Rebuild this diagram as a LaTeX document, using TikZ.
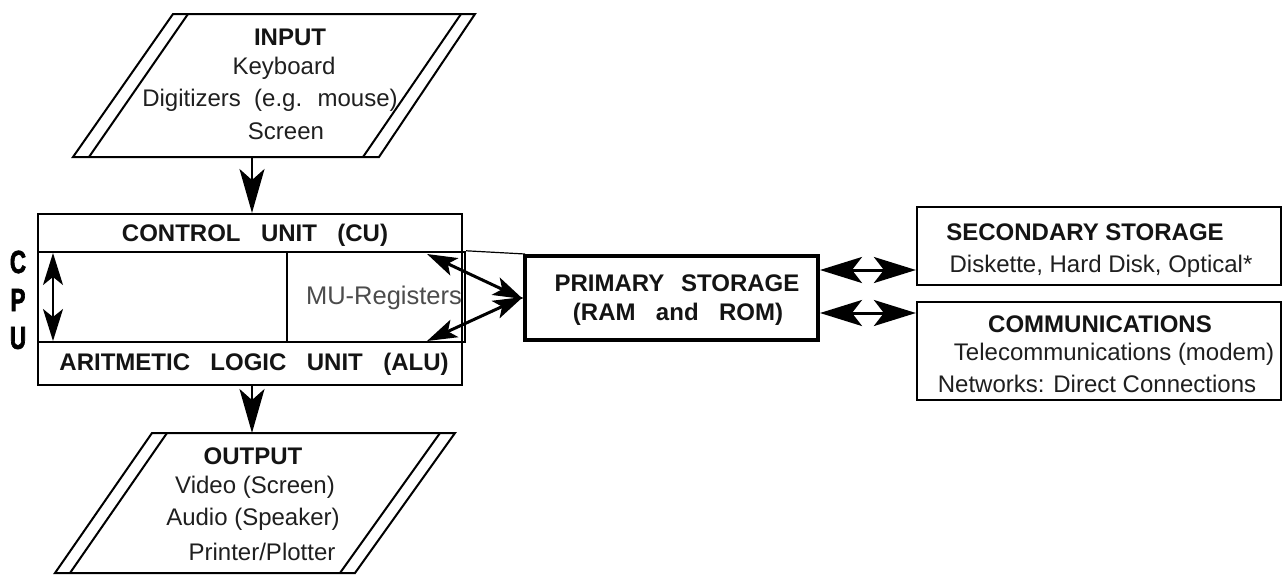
\documentclass[tikz,border=0pt]{standalone}
\usepackage{fontspec}
\setmainfont{Liberation Sans}
\newfontfamily\cpufont[FakeStretch=0.7,FakeBold=2]{Liberation Sans}
\usetikzlibrary{arrows.meta,calc}
\newcommand{\wsp}[1]{\spaceskip=#1\relax}
\begin{document}
\begin{tikzpicture}[x=1pt,y=-1pt,line join=miter]
\tikzset{
  frame/.style={draw=black,line width=2pt},
  boxnode/.style={draw=black,line width=2.2pt,rectangle,inner sep=0pt},
  body/.style={font=\fontsize{24}{30}\selectfont,text=black!88,inner sep=0pt,anchor=center},
  title/.style={font=\bfseries\fontsize{24}{28}\selectfont,text=black!92,inner sep=0pt},
  cpuletter/.style={font=\cpufont\bfseries\fontsize{32}{32}\selectfont,text=black,inner sep=0pt},
  bigarrow/.style={line width=2.5pt,-{Stealth[length=44pt,width=25pt,inset=11pt]}},
  dblarrow/.style={line width=3pt,{Stealth[length=42pt,width=26pt,inset=10pt]}-{Stealth[length=42pt,width=26pt,inset=10pt]}},
  muarrow/.style={line width=3pt,{Stealth[length=30pt,width=19pt,inset=7pt]}-{Stealth[length=30pt,width=19pt,inset=7pt]}},
  thinarrow/.style={line width=2pt,{Stealth[length=32pt,width=20pt,inset=8pt]}-{Stealth[length=32pt,width=20pt,inset=8pt]}},
}
\useasboundingbox (0,0) rectangle (1284,576);
\fill[white] (0,0) rectangle (1284,576);

% ---------- INPUT ----------
\draw[frame] (173,14) -- (475,14) -- (379,157) -- (73,157) -- cycle;
\draw[frame] (188,14) -- (89,157);
\draw[frame] (461,14) -- (363,157);
\node[title] (inT) at (290,37) {INPUT};
\node[body] (inA) at (284,68) {Keyboard};
\node[body] (inB) at (270,100) {\wsp{0.55em}Digitizers (e.g. mouse)};
\node[body] (inC) at (286,131) {Screen};
\coordinate (inbot) at (252,157);

% ---------- CPU ----------
\node[draw=black,line width=2pt,minimum width=424pt,minimum height=171pt,inner sep=0pt] (cpu) at (250,299.5) {};
\draw[frame] (38,252) -- (462,252);
\draw[frame] (38,342) -- (462,342);
\node[draw=black,line width=2.4pt,minimum width=178pt,minimum height=90pt,inner sep=0pt] (mubox) at (376,297) {};
\draw[line width=1.2pt] (mubox.north east) -- (525,254);
\node[title] (cu) at (255,235) {\wsp{0.85em}CONTROL UNIT (CU)};
\node[title] (alu) at (254,364) {\wsp{0.85em}ARITMETIC LOGIC UNIT (ALU)};
\node[body,text=black!70,font=\fontsize{25.5}{30}\selectfont] (mu) at (384,298) {MU-Registers};
\node[cpuletter] (lc) at (18,262) {C};
\node[cpuletter] (lp) at (18,300) {P};
\node[cpuletter] (lu) at (18,338) {U};
\coordinate (cuBot) at (53,253);
\coordinate (aluTop) at (53,341);
\draw[thinarrow] (cuBot) -- (aluTop);

% ---------- OUTPUT ----------
\draw[frame] (152,433) -- (455,433) -- (355,573) -- (55,573) -- cycle;
\draw[frame] (167,433) -- (70,573);
\draw[frame] (440,433) -- (340,573);
\node[title] (outT) at (253,456) {OUTPUT};
\node[body] (outA) at (255,487) {Video (Screen)};
\node[body] (outB) at (253,519) {Audio (Speaker)};
\node[body] (outC) at (262,552) {Printer/Plotter};
\coordinate (outtop) at (252,433);

\draw[bigarrow] (inbot) -- (inbot |- cpu.north);
\draw[bigarrow] (outtop |- cpu.south) -- (outtop);

% ---------- PRIMARY STORAGE ----------
\node[draw=black,line width=4pt,minimum width=293pt,minimum height=84pt,inner sep=0pt] (ps) at (671.5,298) {};
\node[title] (psA) at (677,283) {\wsp{0.7em}PRIMARY STORAGE};
\node[title] (psB) at (678,314) {\wsp{0.85em}(RAM and ROM)};

\coordinate (mu1) at (427,254);
\coordinate (mu2) at (427,341);
\draw[muarrow] (mu1) -- ([yshift=-1pt]ps.west);
\draw[muarrow] (mu2) -- ([yshift=1pt]ps.west);

% ---------- SECONDARY STORAGE ----------
\node[boxnode,minimum width=364pt,minimum height=78pt] (ss) at (1099,246) {};
\node[title] (ssA) at (1085,232) {SECONDARY STORAGE};
\node[body] (ssB) at (1101,266) {Diskette, Hard Disk, Optical*};

% ---------- COMMUNICATIONS ----------
\node[boxnode,minimum width=364pt,minimum height=98pt] (cm) at (1099,351) {};
\node[title] (cmA) at (1100,324) {COMMUNICATIONS};
\node[body] (cmB) at (1114,354) {Telecommunications (modem)};
\node[body] (cmC) at (1097,384) {Networks: Direct Connections};

\coordinate (p1) at ($(ps.north east)+(0,16)$);
\coordinate (p2) at ($(ps.north east)+(0,59)$);
\draw[dblarrow] (p1) -- (p1 -| ss.west);
\draw[dblarrow] (p2) -- (p2 -| cm.west);
\end{tikzpicture}
\end{document}
